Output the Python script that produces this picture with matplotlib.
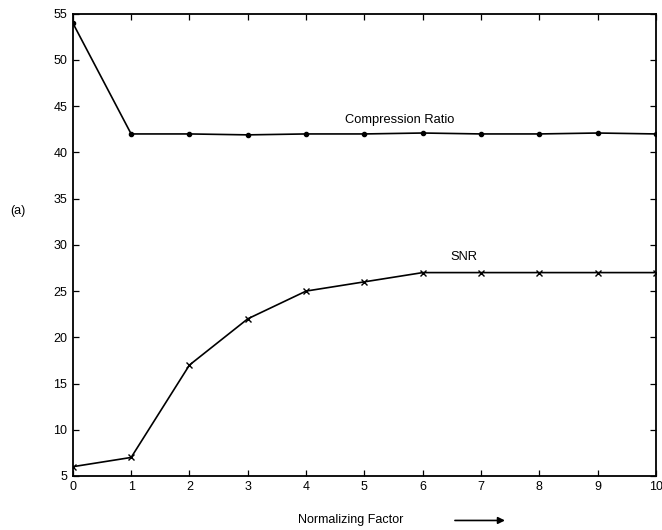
import numpy as np
import matplotlib.pyplot as plt

plt.rcParams['font.family'] = ['Liberation Sans', 'DejaVu Sans']

# fator de normalização e as duas curvas medidas
fator = [0, 1, 2, 3, 4, 5, 6, 7, 8, 9, 10]
taxa_compressao = [54, 42, 42, 41.9, 42, 42, 42.1, 42, 42, 42.1, 42]
snr = [6, 7, 17, 22, 25, 26, 27, 27, 27, 27, 27]

fig = plt.figure(figsize=(6.62, 5.30), dpi=100)
ax = fig.add_axes([0.110, 0.102, 0.881, 0.872])

ax.plot(fator, taxa_compressao, color="black", linewidth=1.2,
        marker="o", markersize=3)
ax.plot(fator, snr, color="black", linewidth=1.2,
        marker="x", markersize=4, markeredgewidth=1.0)

ax.set_xlim(0, 10)
ax.set_ylim(5, 55)
ax.set_xticks(range(0, 11))
ax.set_yticks(range(5, 56, 5))
ax.tick_params(direction="in", top=True, right=True, length=4,
               width=0.9, labelsize=9, pad=4)
for lado in ax.spines.values():
    lado.set_linewidth(1.3)

ax.text(4.67, 43.5, "Compression Ratio", fontsize=9.3, ha="left", va="center")
ax.text(6.47, 28.7, "SNR", fontsize=9.3, ha="left", va="center")

fig.text(0.015, 0.602, "(a)", fontsize=9, ha="left", va="center")
fig.text(0.45, 0.018, "Normalizing Factor", fontsize=9, ha="left", va="center")
fig.patches.append(plt.matplotlib.patches.FancyArrowPatch(
    (0.683, 0.018), (0.767, 0.018), transform=fig.transFigure,
    arrowstyle="-|>", mutation_scale=10, linewidth=1.2, color="black"))

plt.savefig("out.png", dpi=100)
plt.close()
